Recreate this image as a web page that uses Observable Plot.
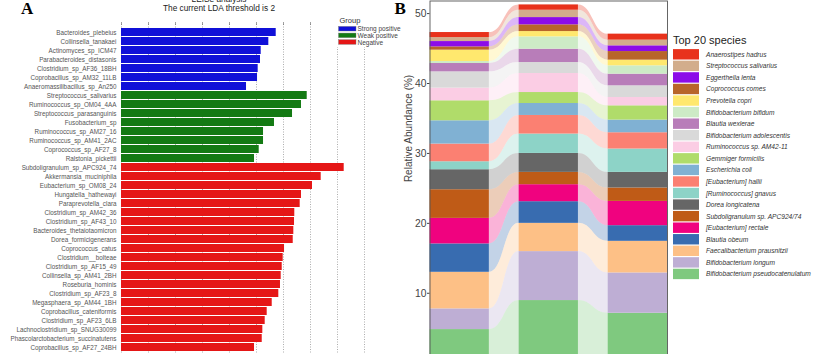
<!DOCTYPE html>
<html><head><meta charset="utf-8">
<script src="https://cdn.jsdelivr.net/npm/d3@7"></script>
<script src="https://cdn.jsdelivr.net/npm/@observablehq/plot@0.6"></script>
<style>
html,body{margin:0;padding:0;background:#fff;overflow:hidden;width:831px;height:354px;}
#root{position:relative;width:831px;height:354px;overflow:hidden;font-family:"Liberation Sans",Arial,sans-serif;}
#root > *{position:absolute;}
</style></head><body><div id="root"></div>
<script>
// ---------- Panel A data (LEfSe) ----------
const ldaNames = [
  "Bacteroides_plebeius","Collinsella_tanakaei","Actinomyces_sp_ICM47","Parabacteroides_distasonis",
  "Clostridium_sp_AF36_18BH","Coprobacillus_sp_AM32_11LB","Anaeromassilibacillus_sp_An250",
  "Streptococcus_salivarius","Ruminococcus_sp_OM04_4AA","Streptococcus_parasanguinis","Fusobacterium_sp",
  "Ruminococcus_sp_AM27_16","Ruminococcus_sp_AM41_2AC","Coprococcus_sp_AF27_8","Ralstonia_pickettii",
  "Subdoligranulum_sp_APC924_74","Akkermansia_muciniphila","Eubacterium_sp_OM08_24","Hungatella_hathewayi",
  "Paraprevotella_clara","Clostridium_sp_AM42_36","Clostridium_sp_AF43_10","Bacteroides_thetaiotaomicron",
  "Dorea_formicigenerans","Coprococcus_catus","Clostridium__bolteae","Clostridium_sp_AF15_49",
  "Collinsella_sp_AM41_2BH","Roseburia_hominis","Clostridium_sp_AF23_8","Megasphaera_sp_AM44_1BH",
  "Coprobacillus_cateniformis","Clostridium_sp_AF23_6LB","Lachnoclostridium_sp_SNUG30099",
  "Phascolarctobacterium_succinatutens","Coprobacillus_sp_AF27_24BH"
];
const ldaValues = [
  2.865,2.728,2.587,2.574,2.531,2.519,2.315,
  3.439,3.333,3.167,2.833,2.630,2.630,2.550,2.463,
  4.124,3.698,3.537,3.333,3.309,3.209,3.204,3.191,3.180,3.019,2.994,2.976,2.957,2.944,2.913,2.791,2.698,2.661,2.617,2.606,2.463
];
const ldaGroups = [
  ...Array(7).fill("Strong positive"),
  ...Array(8).fill("Weak positive"),
  ...Array(21).fill("Negative")
];
const groupNames = ["Strong positive","Weak positive","Negative"];
const groupColors = ["#1010d8","#137a13","#e51616"];
const ldaTicks = [0,0.5,1,1.5,2,2.5,3,3.5,4,4.5];

// ---------- Panel B data (relative abundance) ----------
const species = [
  "Anaerostipes hadrus","Streptococcus salivarius","Eggerthella lenta","Coprococcus comes",
  "Prevotella copri","Bifidobacterium bifidum","Blautia wexlerae","Bifidobacterium adolescentis",
  "Ruminococcus sp. AM42-11","Gemmiger formicilis","Escherichia coli","[Eubacterium] hallii",
  "[Ruminococcus] gnavus","Dorea longicatena","Subdoligranulum sp. APC924/74","[Eubacterium] rectale",
  "Blautia obeum","Faecalibacterium prausnitzii","Bifidobacterium longum","Bifidobacterium pseudocatenulatum"
];
const speciesColors = [
  "#e8321c","#d2ad8c","#8c0ce8","#b8652a","#ffe86e","#cdebc6","#b87db9","#d9d9d9",
  "#fbcde4","#b0dc6a","#80b1d3","#fb8072","#8dd3c7","#666666","#bf5b17","#f0027f",
  "#386cb0","#fdc086","#beaed4","#7fc97f"
];
const samples = ["Strong positive","Weak positive","Negative"];
const abundS1 = [0.72,0.57,0.76,0.47,1.63,0.28,1.19,2.33,1.81,2.86,3.33,2.53,1.14,2.86,4.10,3.65,4.06,5.23,2.96,4.81];
const abundS2 = [0.76,1.05,1.04,0.96,0.76,1.76,1.91,1.57,2.72,1.57,1.71,2.66,2.77,2.71,1.76,2.43,3.10,4.04,7.00,8.96];
const abundS3 = [0.86,0.81,0.82,1.23,0.81,1.19,1.67,1.67,1.19,2.04,1.81,2.33,3.34,2.23,1.92,3.47,2.24,4.52,5.77,7.14];
const abundTicks = [10,20,30,40,50];

const root = document.getElementById("root");

// ---------- Panel A ----------
const dataA = ldaNames.map((n,i)=>({name:n, value:ldaValues[i], group:ldaGroups[i]}));
const plotA = Plot.plot({
  width: 400, height: 360,
  marginLeft: 121, marginRight: 30.6, marginTop: 24, marginBottom: 0,
  style: {background:"transparent", color:"#555", fontFamily:"Liberation Sans, Arial, sans-serif"},
  x: {domain:[0,4.6], axis:null, label:null},
  y: {domain: ldaNames, range:[24.73, 353.77], paddingInner:0.12, paddingOuter:0.06, axis:null, label:null},
  color: {domain: groupNames, range: groupColors},
  marks: [
    Plot.gridX(ldaTicks, {stroke:"#8a8a8a", strokeOpacity:1, strokeWidth:0.7, strokeDasharray:"1,1.5"}),
    Plot.barX(dataA, {x:"value", y:"name", fill:"group"}),
    Plot.axisX({anchor:"top", ticks: ldaTicks, tickSize:3, tickFormat:()=>"", stroke:"#777", strokeWidth:0.7, label:null}),
    Plot.axisY({anchor:"left", tickSize:0, tickPadding:5, fontSize:6.3, fill:"#555", label:null})
  ]
});
plotA.style.left = "0px"; plotA.style.top = "0px";
root.appendChild(plotA);

// ---------- Panel B ----------
const abund = [abundS1, abundS2, abundS3];
const stackRows = [];
const tops = [];
samples.forEach((s, j) => {
  let cum = 0; const t = {};
  for (let k = species.length - 1; k >= 0; k--) {
    const v = abund[j][k];
    stackRows.push({sample:s, pos:j+1, species:species[k], y1:cum, y2:cum+v});
    t[species[k]] = [cum, cum+v];
    cum += v;
  }
  tops.push(t);
});
const halfBar = 1/3;
const ribbons = [];
for (let j = 0; j < samples.length - 1; j++) {
  species.forEach(sp => {
    ribbons.push({key: sp + j, species: sp, x: j + 1 + halfBar, y1: tops[j][sp][0], y2: tops[j][sp][1]});
    ribbons.push({key: sp + j, species: sp, x: j + 2 - halfBar, y1: tops[j+1][sp][0], y2: tops[j+1][sp][1]});
  });
}
const plotB = Plot.plot({
  width: 270, height: 380,
  marginLeft: 29.5, marginRight: 3, marginTop: 0.5, marginBottom: 17.3,
  style: {background:"transparent", color:"#444", fontFamily:"Liberation Sans, Arial, sans-serif"},
  x: {domain:[1 - halfBar, 3 + halfBar], axis:null},
  y: {domain:[0, 51.8], axis:null},
  color: {domain: species, range: speciesColors},
  marks: [
    Plot.areaY(ribbons, {x:"x", y1:"y1", y2:"y2", z:"key", fill:"species", fillOpacity:0.3, curve:"bump-x"}),
    Plot.rect(stackRows, {x1: d => d.pos - halfBar, x2: d => d.pos + halfBar, y1:"y1", y2:"y2", fill:"species"}),
    Plot.frame({stroke:"#555", strokeWidth:0.9}),
    Plot.axisY({anchor:"left", ticks: abundTicks, tickSize:2.5, tickPadding:1, fontSize:10.3, fill:"#444", stroke:"#444", label:null}),
    Plot.text(["Relative Abundance (%)"], {frameAnchor:"left", rotate:-90, dx:-21, fontSize:10, fill:"#444"})
  ]
});
plotB.style.left = "400px"; plotB.style.top = "0px";
root.appendChild(plotB);

// ---------- Overlay: titles, panel letters, legends ----------
const ov = d3.select(root).append("svg")
  .attr("width", 831).attr("height", 354)
  .style("left","0px").style("top","0px")
  .style("font-family","Liberation Sans, Arial, sans-serif");

ov.append("text").attr("x", 219).attr("y", -1.5).attr("text-anchor","middle")
  .attr("dominant-baseline","central").attr("font-size", 8.3).attr("fill","#222").text("LEfSe analysis");
ov.append("text").attr("x", 219).attr("y", 7.6).attr("text-anchor","middle")
  .attr("dominant-baseline","central").attr("font-size", 8.3).attr("fill","#222").text("The current LDA threshold is 2");

ov.append("text").attr("x", 21).attr("y", 14).attr("font-size", 17).attr("font-weight","bold")
  .attr("font-family","Liberation Serif, Times New Roman, serif").attr("fill","#000").text("A");
ov.append("text").attr("x", 394.5).attr("y", 14).attr("font-size", 17).attr("font-weight","bold")
  .attr("font-family","Liberation Serif, Times New Roman, serif").attr("fill","#000").text("B");

// Legend A (group)
const lgA = ov.append("g");
lgA.append("rect").attr("x", 334).attr("y", 13).attr("width", 60).attr("height", 34).attr("fill","#fff");
lgA.append("text").attr("x", 339.5).attr("y", 20).attr("dominant-baseline","central")
  .attr("font-size", 7.5).attr("fill","#333").text("Group");
groupNames.forEach((g, i) => {
  const cy = 28.7 + i * 6.65;
  lgA.append("rect").attr("x", 338.5).attr("y", cy - 2.3).attr("width", 17.5).attr("height", 4.6)
    .attr("fill", groupColors[i]).attr("stroke","#777").attr("stroke-width",0.4);
  lgA.append("text").attr("x", 357.5).attr("y", cy).attr("dominant-baseline","central")
    .attr("font-size", 6.5).attr("fill","#444").text(g);
});

// Legend B (species)
const lgB = ov.append("g");
lgB.append("text").attr("x", 673).attr("y", 39.5).attr("dominant-baseline","central")
  .attr("font-size", 11).attr("fill","#222").text("Top 20 species");
species.forEach((sp, i) => {
  const cy = 54.3 + i * 11.56;
  lgB.append("rect").attr("x", 673).attr("y", cy - 5.2).attr("width", 26).attr("height", 10.4)
    .attr("fill", speciesColors[i]);
  lgB.append("text").attr("x", 706).attr("y", cy).attr("dominant-baseline","central")
    .attr("font-size", 6.6).attr("font-style","italic").attr("fill","#333").text(sp);
});
</script>
</body></html>
